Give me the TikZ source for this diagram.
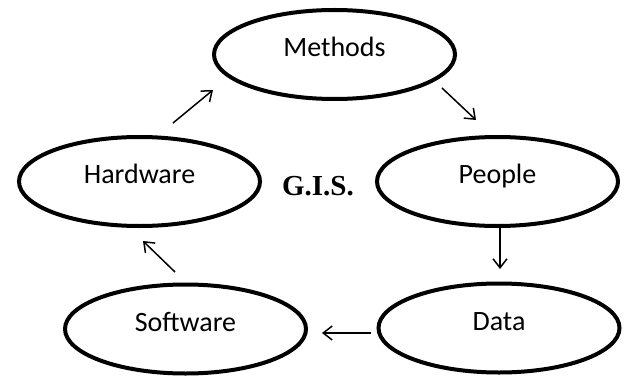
\documentclass[tikz,border=0pt]{standalone}
\usepackage{fontspec}
\setmainfont{Carlito}
\newfontfamily\gisfont{Liberation Serif}
\usetikzlibrary{shapes.geometric,arrows.meta}
\begin{document}
\begin{tikzpicture}[x=1pt,y=-1pt,
  oval/.style={ellipse,draw,line width=4pt,minimum width=241pt,minimum height=89pt,
    inner sep=0pt,text height=4pt,text depth=0pt,font=\fontsize{28}{30}\selectfont},
  conn/.style={line width=1.5pt,-{Straight Barb[length=9pt,width=14pt,line width=1.5pt]}}]
\useasboundingbox (0,0) rectangle (626,377);
\node[oval] (methods) at (334.5,54.5) {Methods};
\node[oval] (hardware) at (139.5,181.5) {Hardware};
\node[oval] (people) at (497.5,181.5) {People};
\node[oval] (software) at (185.5,329) {Software};
\node[oval] (data) at (499,328) {Data};
\node[font=\gisfont\bfseries\fontsize{29}{31}\selectfont,anchor=base] (gis) at (318,195) {G.I.S.};
\coordinate (a1s) at (173,123); \coordinate (a1e) at (213,90);
\coordinate (a2s) at (442,88);  \coordinate (a2e) at (476,120);
\coordinate (a3s) at (500,228); \coordinate (a3e) at (500,269);
\coordinate (a4s) at (371,333); \coordinate (a4e) at (322,333);
\coordinate (a5s) at (175,272); \coordinate (a5e) at (143,241);
\draw[conn] (a1s) -- (a1e);
\draw[conn] (a2s) -- (a2e);
\draw[conn] (a3s) -- (a3e);
\draw[conn] (a4s) -- (a4e);
\draw[conn] (a5s) -- (a5e);
\end{tikzpicture}
\end{document}
